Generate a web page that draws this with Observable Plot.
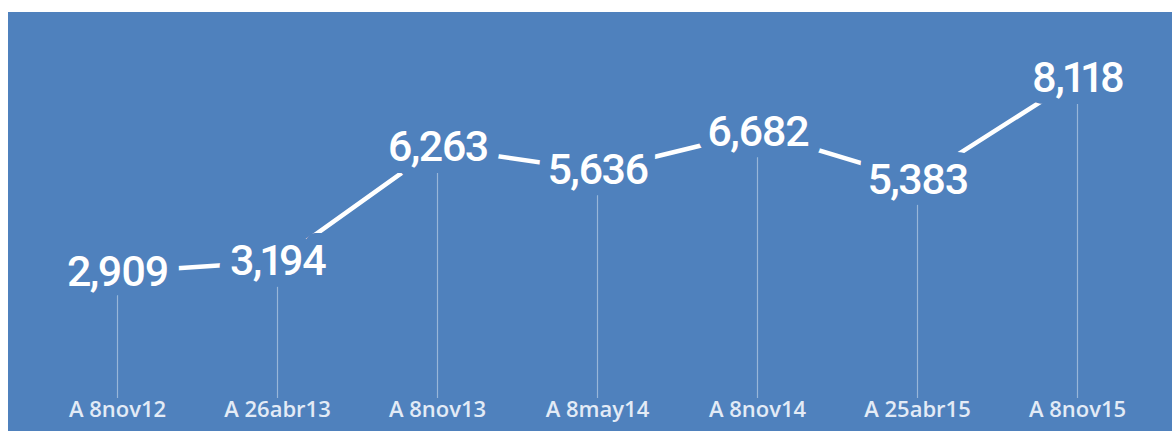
<!DOCTYPE html>
<html>
<head>
<meta charset="utf-8">
<script src="https://cdn.jsdelivr.net/npm/d3@7"></script>
<script src="https://cdn.jsdelivr.net/npm/@observablehq/plot@0.6"></script>
<style>
  html, body { margin: 0; padding: 0; background: #ffffff; }
  #chart { position: absolute; left: 8px; top: 12px; }
  #chart svg { display: block; }
</style>
</head>
<body>
<div id="chart"></div>
<script>
const dates = ["A 8nov12", "A 26abr13", "A 8nov13", "A 8may14", "A 8nov14", "A 25abr15", "A 8nov15"];
const values = [2909, 3194, 6263, 5636, 6682, 5383, 8118];

const bg = "#4F81BD";
const data = dates.map((d, i) => ({date: d, value: values[i]}));
const fmt = d3.format(",");

const chart = Plot.plot({
  width: 1164,
  height: 419,
  marginLeft: 109,
  marginRight: 95,
  marginTop: 33,
  marginBottom: 51,
  style: {background: bg, overflow: "visible"},
  x: {type: "point", domain: dates, padding: 0, label: null},
  y: {domain: [0, 9000], axis: null},
  marks: [
    Plot.ruleX(data, {x: "date", y1: 0, y2: "value", stroke: "#ffffff", strokeOpacity: 0.42, strokeWidth: 1.2, insetTop: 18}),
    Plot.line(data, {x: "date", y: "value", stroke: "#ffffff", strokeWidth: 4.5, strokeLinecap: "butt"}),
    Plot.text(data, {
      x: "date", y: "value", text: d => fmt(d.value),
      fill: "#ffffff", stroke: bg, strokeWidth: 24, strokeLinejoin: "round",
      paintOrder: "stroke", fontSize: 43, fontWeight: 500,
      fontFamily: "Roboto, sans-serif", fontVariant: "proportional-nums",
      lineAnchor: "middle"
    }),
    Plot.axisX({
      tickSize: 0, tickPadding: 21, fontSize: 22, fontWeight: 600,
      fontFamily: "'Open Sans', sans-serif", color: "#e3ebf6", label: null
    })
  ]
});

d3.select(chart).selectAll("g[aria-label='text'] text").style("letter-spacing", "-1.6px");
document.getElementById("chart").appendChild(chart);
</script>
</body>
</html>
